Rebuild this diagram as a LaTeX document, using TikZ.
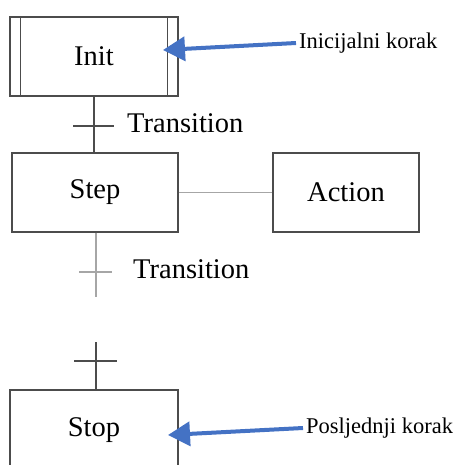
\documentclass[tikz,border=0pt]{standalone}
\usepackage{fontspec}
\setmainfont{Liberation Serif}
\usetikzlibrary{arrows.meta,positioning}
\definecolor{noteblue}{RGB}{68,114,196}
\begin{document}
\begin{tikzpicture}[x=1pt,y=-1pt,
    every node/.style={font=\fontsize{28.5}{32}\selectfont},
    stepbox/.style={rectangle,draw=black!70,line width=1.4pt,minimum width=166pt,minimum height=79pt,inner sep=0pt},
    link/.style={draw=black!70,line width=1.4pt},
    faint/.style={draw=black!35,line width=1.4pt},
    note/.style={font=\fontsize{22.5}{26}\selectfont,anchor=west,inner sep=3pt},
    pointer/.style={draw=noteblue,line width=4pt,-{Triangle[length=22pt,width=24pt]}}]
    \useasboundingbox (0,0) rectangle (459,465);
    \node[stepbox,minimum width=168pt] (init) at (94,56.5) {Init};
    \node[stepbox] (step) at (95,192.5) {Step};
    \node[stepbox,minimum width=146pt] (action) at (346,192.5) {Action};
    \node[stepbox,minimum width=168pt,minimum height=80pt] (stop) at (94,430) {Stop};
    \coordinate (t1) at (94,126);
    \coordinate (t2) at (96,272);
    \coordinate (end2) at (96,297);
    \coordinate (beg3) at (96,342);
    \coordinate (t3) at (96,361);
    \draw[link] ([xshift=11pt]init.north west) -- ([xshift=11pt]init.south west);
    \draw[link] ([xshift=-11pt]init.north east) -- ([xshift=-11pt]init.south east);
    \draw[link] (init.south) -- (step.north -| init.south);
    \draw[link] ([xshift=-21pt]t1) -- ([xshift=20pt]t1);
    \node[anchor=base west,inner sep=0pt] (tr1) at (127,133) {Transition};
    \draw[faint] (step.east) -- (action.west);
    \draw[faint] (step.south -| t2) -- (end2);
    \draw[faint] ([xshift=-17pt]t2) -- ([xshift=16pt]t2);
    \node[anchor=base west,inner sep=0pt] (tr2) at (133,278) {Transition};
    \draw[link] (beg3) -- (stop.north -| beg3);
    \draw[link] ([xshift=-22pt]t3) -- ([xshift=21pt]t3);
    \node[note] (ini) at (296,43) {Inicijalni korak};
    \node[note] (last) at (303,428) {Posljednji korak};
    \coordinate (tipA) at (163,50);
    \coordinate (tipB) at (168,435);
    \draw[pointer] (ini.west) -- (tipA);
    \draw[pointer] (last.west) -- (tipB);
\end{tikzpicture}
\end{document}
